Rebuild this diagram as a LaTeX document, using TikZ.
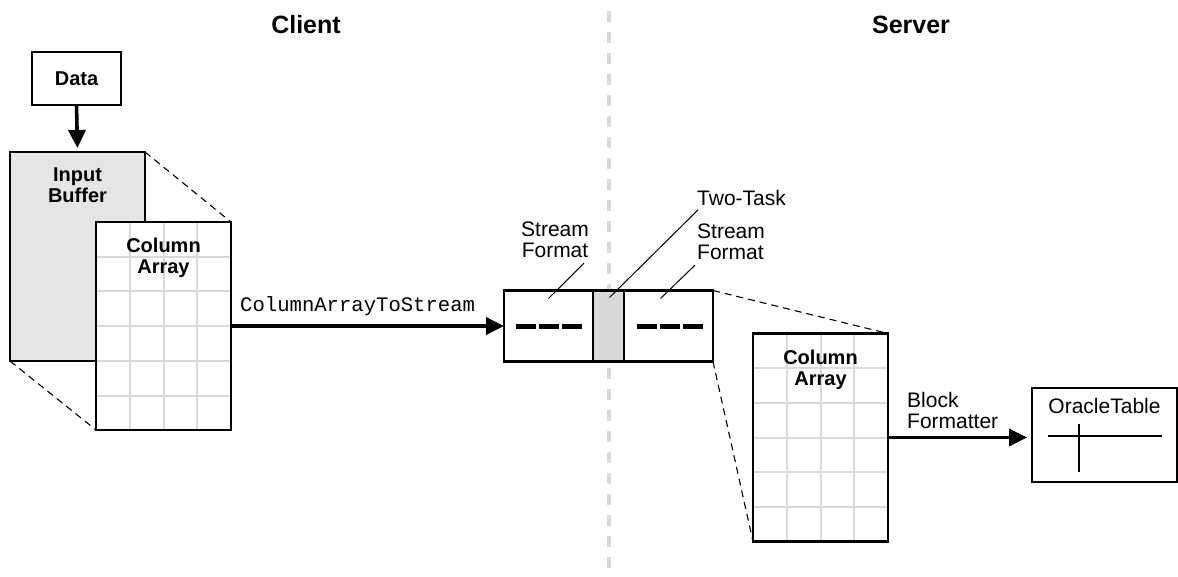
\documentclass[tikz,border=0pt]{standalone}
\usepackage{fontspec}
\setmainfont{Liberation Sans}
\setmonofont{Liberation Mono}
\usetikzlibrary{arrows.meta,positioning,calc}

\begin{document}
\begin{tikzpicture}[x=1pt,y=-1pt,
		box/.style={draw,line width=2.4pt,outer sep=0pt,inner sep=0pt,fill=white},
		arraybox/.style={box,minimum width=135pt,minimum height=208pt},
		gridline/.style={draw=gray!30,line width=2pt},
		zoomline/.style={dash pattern=on 7pt off 5pt,line width=1.1pt},
		flow/.style={line width=3.6pt,-{Triangle[length=18pt,width=17pt]}},
		leader/.style={line width=1pt},
		title/.style={font=\fontsize{25}{25}\selectfont\bfseries},
		boldlbl/.style={font=\fontsize{20}{21}\selectfont\bfseries,align=center,inner sep=0pt},
		lbl/.style={font=\fontsize{21}{21}\selectfont,align=left,inner sep=0pt},
		streamdash/.style={line width=5pt,dash pattern=on 20pt off 3pt}]
		\useasboundingbox (0,0) rectangle (1178,576);
		\draw[draw=gray!30,line width=4pt,dash pattern=on 11pt off 10pt] (609,11) -- (609,576);
		\node[title] (client) at (306,25) {Client};
		\node[title] (server) at (911,25) {Server};
		\node[box,boldlbl,minimum width=89pt,minimum height=53pt] (data) at (76.5,78.5) {Data};
		\node[box,fill=gray!20,minimum width=135pt,minimum height=209pt] (inbuf) at (77.5,256.5) {};
		\node[boldlbl,below=16pt of inbuf.north] (inbuflbl) {Input\\Buffer};
		\draw[flow,shorten >=4pt] (data.south) -- (inbuf.north);
		\node[arraybox] (carrL) at (163.5,326) {};
		\node[arraybox] (carrR) at (820.5,437.5) {};
		\foreach \a in {carrL,carrR} {
			\foreach \k in {1,2,3}
				\draw[gridline] ($(\a.north west)+(\k*33.75,0)$) -- ($(\a.south west)+(\k*33.75,0)$);
			\foreach \k in {1,...,5}
				\draw[gridline] ($(\a.north west)+(0,\k*34.7)$) -- ($(\a.north east)+(0,\k*34.7)$);
			\draw[line width=2.4pt] (\a.north west) rectangle (\a.south east);
			\node[boldlbl,below=16pt of \a.north] (\a lbl) {Column\\Array};
		}
		\node[box,minimum width=89pt,minimum height=71pt] (sfL) at (548.5,326) {};
		\node[box,fill=gray!30,minimum width=31pt,minimum height=71pt,right=0pt of sfL] (tt) {};
		\node[box,minimum width=89pt,minimum height=71pt,right=0pt of tt] (sfR) {};
		\draw[streamdash] ($(sfL.center)+(-33,0)$) -- ++(66,0);
		\draw[streamdash] ($(sfR.center)+(-32,0)$) -- ++(66,0);
		\draw[flow] (carrL.east) -- (carrL.east -| sfL.west);
		\node[font=\fontsize{20.6}{21}\selectfont\ttfamily,anchor=base west,inner sep=0pt] (catslbl) at ($(carrL.east)+(9,-15)$) {ColumnArrayToStream};
		\node[lbl,align=center] (sflblL) at (555,240) {Stream\\Format};
		\node[lbl,anchor=west] (ttlbl) at (697,198) {Two-Task};
		\node[lbl,anchor=west] (sflblR) at (697,242) {Stream\\Format};
		\draw[leader] ($(sflblL.south east)+(-5,5)$) -- ($(sfL.north)+(0,8)$);
		\draw[leader] ($(ttlbl.south west)+(1,4)$) -- ($(tt.north)+(1,7)$);
		\draw[leader] ($(sflblR.south west)+(-2,5)$) -- ($(sfR.north)+(-8,8)$);
		\draw[zoomline] (inbuf.north east) -- (carrL.north east);
		\draw[zoomline] (inbuf.south west) -- (carrL.south west);
		\draw[zoomline] (sfR.north east) -- (carrR.north east);
		\draw[zoomline] (sfR.south east) -- (carrR.south west);
		\node[box,line width=2pt,minimum width=145pt,minimum height=94pt] (otab) at (1104.5,435) {};
		\node[lbl,below=10pt of otab.north] (otablbl) {OracleTable};
		\draw[line width=1.6pt] ($(otab.center)+(-56.5,1)$) -- ($(otab.center)+(57.5,1)$);
		\draw[line width=1.6pt] ($(otab.center)+(-25.5,-11)$) -- ($(otab.center)+(-25.5,37)$);
		\draw[flow,shorten >=5pt] (carrR.east) -- (carrR.east -| otab.west);
		\node[lbl,anchor=south west] (bflbl) at ($(carrR.east)+(19,-9)$) {Block\\Formatter};
	\end{tikzpicture}
\end{document}
